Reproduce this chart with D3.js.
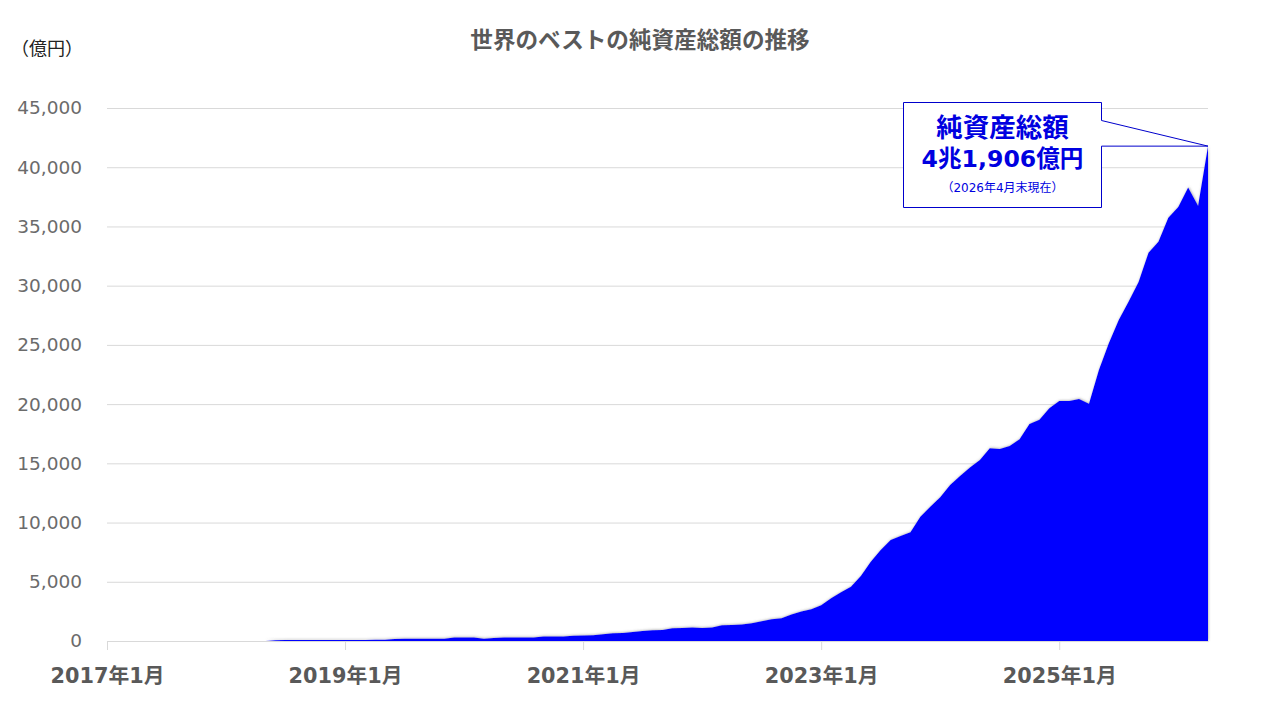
<!DOCTYPE html>
<html>
<head>
<meta charset="utf-8">
<script src="https://cdn.jsdelivr.net/npm/d3@7"></script>
<style>
  html, body { margin: 0; padding: 0; background: #fff; }
  text { font-family: "DejaVu Sans", "Noto Sans CJK JP", sans-serif; }
</style>
</head>
<body>
<div id="main-div"></div>
<script>
// monthly net assets (oku yen), 2017/1 - 2026/4
const values = [
  0, 0, 0, 0, 0, 0, 0, 0, 0, 0, 0, 0,
  0, 0, 0, 0, 0, 70, 80, 80, 80, 80, 80, 90,
  90, 90, 90, 100, 110, 170, 190, 190, 190, 200, 200, 290,
  300, 290, 200, 260, 290, 290, 290, 300, 380, 380, 390, 450,
  470, 490, 560, 650, 680, 760, 850, 900, 930, 1070, 1100, 1150,
  1100, 1150, 1320, 1350, 1400, 1490, 1660, 1830, 1920, 2230, 2500, 2680,
  3010, 3600, 4110, 4590, 5490, 6700, 7690, 8530, 8870, 9180, 10500, 11340,
  12130, 13180, 13940, 14640, 15290, 16270, 16220, 16470, 17030, 18330, 18670, 19650,
  20270, 20270, 20440, 20040, 22890, 25140, 27110, 28660, 30320, 32770, 33700, 35730,
  36650, 38290, 36740, 41780
]
const yTicks = [0, 5000, 10000, 15000, 20000, 25000, 30000, 35000, 40000, 45000]
const xTicks = ["2017年1月", "2019年1月", "2021年1月", "2023年1月", "2025年1月"]

const titleText = "世界のベストの純資産総額の推移"
const unitText = "（億円）"
const calloutLines = ["純資産総額", "4兆1,906億円", "（2026年4月末現在）"]

let width = 1280
let height = 720
let margin = { top: 108, right: 72, bottom: 79, left: 107 }

// category labels, one per month
let months = []
for (let i = 0; i < values.length; i++) {
  months.push((2017 + Math.floor(i / 12)) + "年" + (i % 12 + 1) + "月")
}

let x = d3.scalePoint()
  .domain(months)
  .range([margin.left, width - margin.right])

let y = d3.scaleLinear()
  .domain([0, 45000])
  .range([height - margin.bottom, margin.top])

let svg = d3.select("#main-div")
  .append("svg")
  .attr("width", width)
  .attr("height", height)
  .style("display", "block")

// soft edge round the area
let defs = svg.append("defs")
let shadow = defs.append("filter").attr("id", "soft")
  .attr("x", "-5%").attr("y", "-5%").attr("width", "110%").attr("height", "110%")
shadow.append("feDropShadow")
  .attr("dx", 0.6).attr("dy", -0.6).attr("stdDeviation", 0.8)
  .attr("flood-color", "#666").attr("flood-opacity", 0.5)

// grid + y axis
let yAxis = svg.append("g")
  .attr("transform", `translate(${margin.left},0)`)
  .call(d3.axisLeft(y).tickValues(yTicks).tickFormat(d3.format(",")).tickSize(0).tickPadding(25))
yAxis.select(".domain").remove()
yAxis.selectAll("text")
  .attr("font-size", 18.5)
  .attr("fill", "#6b6b6b")
yAxis.selectAll(".tick line")
  .attr("x2", width - margin.right - margin.left)
  .attr("stroke", "#d9d9d9")
yAxis.selectAll(".tick").filter(d => d === 0).select("line").remove()

// area
let area = d3.area()
  .x((d, i) => x(months[i]))
  .y0(y(0))
  .y1(d => y(d))

svg.append("path")
  .datum(values)
  .attr("fill", "#0000ff")
  .attr("filter", "url(#soft)")
  .attr("d", area)

// x axis
let xAxis = svg.append("g")
  .attr("transform", `translate(0,${y(0)})`)
  .call(d3.axisBottom(x).tickValues(xTicks).tickSize(9).tickPadding(18).tickSizeOuter(0))
xAxis.select(".domain").attr("stroke", "#d9d9d9")
xAxis.selectAll(".tick line").attr("stroke", "#d9d9d9")
xAxis.selectAll("text")
  .attr("font-size", 20.8)
  .attr("font-weight", "bold")
  .attr("fill", "#595959")

// title and unit
svg.append("text")
  .attr("x", 640).attr("y", 48)
  .attr("text-anchor", "middle")
  .attr("font-size", 22.6)
  .attr("font-weight", "bold")
  .attr("fill", "#595959")
  .text(titleText)

svg.append("text")
  .attr("x", 11).attr("y", 55)
  .attr("font-size", 18)
  .attr("fill", "#222")
  .text(unitText)

// callout box, pointer runs to the last value
let tipX = x(months[months.length - 1])
let tipY = y(values[values.length - 1])
let box = { left: 903.5, right: 1101.5, top: 102.5, bottom: 207.5, notch: 120.5 }

svg.append("path")
  .attr("fill", "#fff")
  .attr("stroke", "#0000cc")
  .attr("stroke-width", 1)
  .attr("d", `M${box.left},${box.top}H${box.right}V${box.notch}L${tipX},${tipY}L${box.right},${tipY}V${box.bottom}H${box.left}Z`)

let boxMid = (box.left + box.right) / 2
svg.append("text")
  .attr("x", boxMid).attr("y", 137)
  .attr("text-anchor", "middle")
  .attr("font-size", 26.5)
  .attr("font-weight", "bold")
  .attr("fill", "#0000e0")
  .text(calloutLines[0])
svg.append("text")
  .attr("x", boxMid).attr("y", 167)
  .attr("text-anchor", "middle")
  .attr("font-size", 23.6)
  .attr("font-weight", "bold")
  .attr("fill", "#0000e0")
  .text(calloutLines[1])
svg.append("text")
  .attr("x", boxMid).attr("y", 192)
  .attr("text-anchor", "middle")
  .attr("font-size", 12)
  .attr("fill", "#0000e0")
  .text(calloutLines[2])
</script>
</body>
</html>
